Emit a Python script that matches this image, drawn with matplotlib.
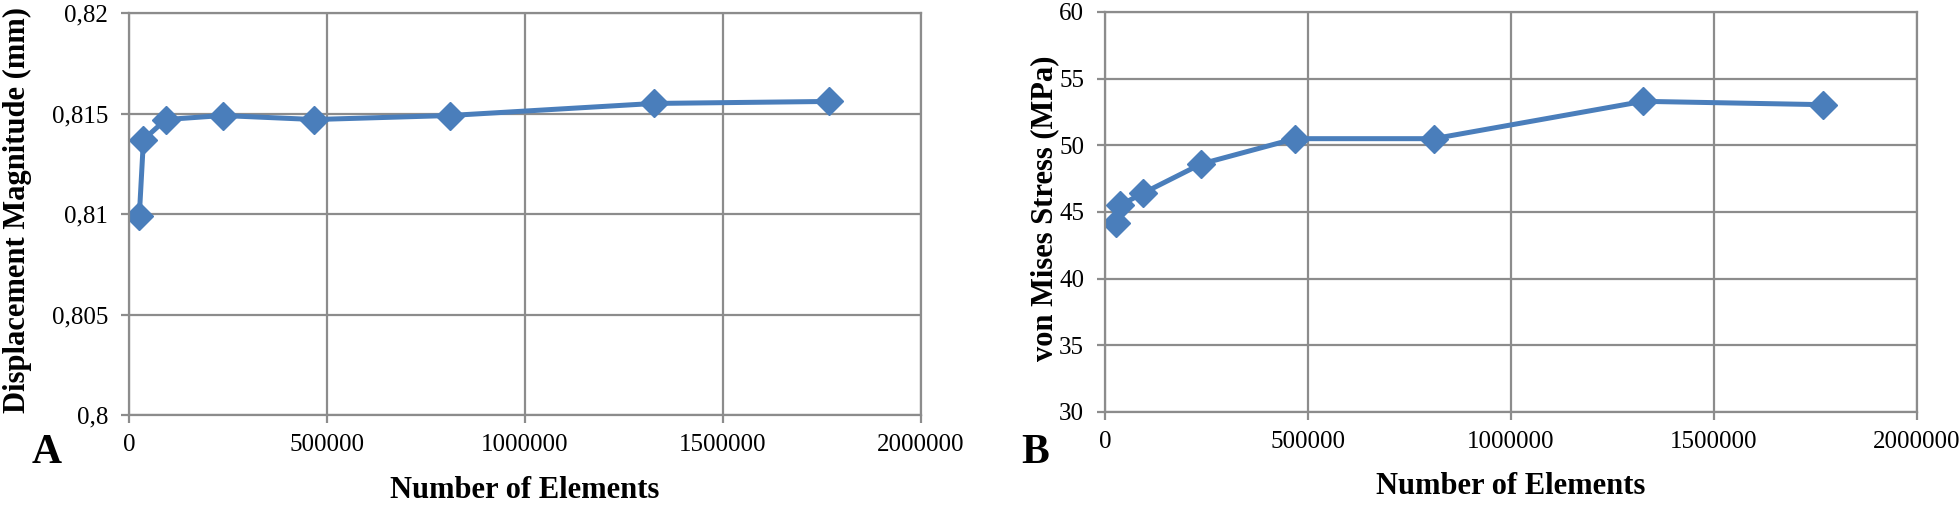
import matplotlib.pyplot as plt
from matplotlib.ticker import FuncFormatter

# Datos
elements = [26000, 36500, 93000, 236500, 468000, 810000, 1325500, 1768000]
displacement = [0.8099, 0.8137, 0.8147, 0.8149, 0.8147, 0.8149, 0.8155, 0.8156]
stress = [44.2, 45.5, 46.4, 48.6, 50.5, 50.5, 53.3, 53.05]

x_ticks = [0, 500000, 1000000, 1500000, 2000000]
disp_ticks = [0.8, 0.805, 0.81, 0.815, 0.82]
stress_ticks = [30, 35, 40, 45, 50, 55, 60]

plt.rcParams['font.family'] = ['Liberation Serif', 'DejaVu Serif']

blue = '#4a7ebb'
grey = '#8c8c8c'

fig = plt.figure(figsize=(19.6, 5.07), dpi=100)
ax1 = fig.add_axes([129 / 1960, 92 / 507, 792 / 1960, 402 / 507])
ax2 = fig.add_axes([1105 / 1960, 95 / 507, 812 / 1960, 400 / 507])


def comma(v, pos):
    s = f"{v:g}"
    return s.replace('.', ',')


def style(ax, yticks, ylabel, ylabel_x):
    ax.set_xlim(0, 2000000)
    ax.set_ylim(yticks[0], yticks[-1])
    ax.set_xticks(x_ticks)
    ax.set_yticks(yticks)
    ax.xaxis.set_major_formatter(FuncFormatter(lambda v, p: f"{int(v)}"))
    ax.yaxis.set_major_formatter(FuncFormatter(comma))
    ax.grid(True, color=grey, linewidth=1.6)
    ax.set_axisbelow(True)
    for s in ax.spines.values():
        s.set_color(grey)
        s.set_linewidth(1.6)
    ax.tick_params(axis='both', colors=grey, labelcolor='black', labelsize=18,
                   length=6, width=1.6)
    ax.tick_params(axis='x', pad=8)
    ax.tick_params(axis='y', pad=9)
    ax.set_xlabel("Number of Elements", fontsize=22, fontweight='bold', va='center')
    ax.xaxis.set_label_coords(0.5, -0.187)
    ax.set_ylabel(ylabel, fontsize=22, fontweight='bold', va='center')
    ax.yaxis.set_label_coords(ylabel_x, 0.51)


ax1.plot(elements, displacement, color=blue, linewidth=3.6, marker='D',
         markersize=14, markeredgecolor=blue, markerfacecolor=blue)
style(ax1, disp_ticks, "Displacement Magnitude (mm)", -(129 - 17) / 792)

ax2.plot(elements, stress, color=blue, linewidth=3.6, marker='D',
         markersize=14, markeredgecolor=blue, markerfacecolor=blue)
style(ax2, stress_ticks, "von Mises Stress (MPa)", -(1105 - 1045) / 812)

fig.text(47 / 1960, 1 - 453 / 507, "A", fontsize=30, fontweight='bold',
         ha='center', va='center')
fig.text(1035 / 1960, 1 - 453 / 507, "B", fontsize=30, fontweight='bold',
         ha='center', va='center')

fig.savefig('out.png', dpi=100)
